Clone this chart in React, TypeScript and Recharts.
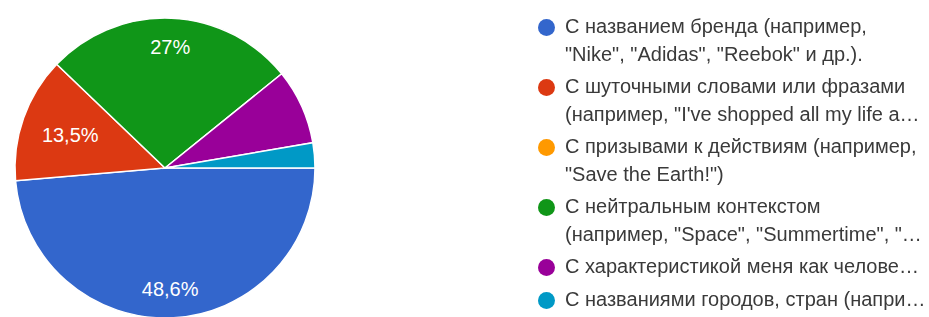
import { PieChart, Pie, Cell, Legend } from "recharts";

// answers (legend text as shown, already wrapped / cut like in the form summary)
const categories = [
  "С названием бренда (например,\n\"Nike\", \"Adidas\", \"Reebok\" и др.).",
  "С шуточными словами или фразами\n(например, \"I've shopped all my life a…",
  "С призывами к действиям (например,\n\"Save the Earth!\")",
  "С нейтральным контекстом\n(например, \"Space\", \"Summertime\", \"…",
  "С характеристикой меня как челове…",
  "С названиями городов, стран (напри…",
];
// number of responses (37 total)
const responses = [18, 5, 0, 10, 3, 1];
const colors = ["#3366cc", "#dc3912", "#ff9900", "#109618", "#990099", "#0099c6"];

const data = categories.map((name, i) => ({
  name,
  value: responses[i],
  fill: colors[i],
}));

const RADIAN = Math.PI / 180;
const FONT = "Arial, 'Liberation Sans', sans-serif";

const fmtPercent = (p: number) => {
  const s = (p * 100).toFixed(1).replace(/\.0$/, "");
  return s.replace(".", ",") + "%";
};

const renderLabel = (props: any) => {
  const { cx, cy, midAngle, outerRadius, percent } = props;
  if (percent < 0.1) return null;
  // big slices get the label further out, like google charts does
  const r = outerRadius * (percent >= 0.2 ? 0.81 : 0.67);
  const x = cx + r * Math.cos(-midAngle * RADIAN);
  const y = cy + r * Math.sin(-midAngle * RADIAN);
  return (
    <text
      x={x}
      y={y}
      fill="#ffffff"
      textAnchor="middle"
      dominantBaseline="central"
      fontSize={20}
      fontFamily={FONT}
    >
      {fmtPercent(percent)}
    </text>
  );
};

const renderLegend = (props: any) => {
  // keep the data order (recharts sorts legend items by default)
  const items = [...(props.payload || [])].sort(
    (a: any, b: any) => categories.indexOf(a.value) - categories.indexOf(b.value)
  );
  return (
    <ul style={{ listStyle: "none", margin: 0, padding: 0, fontFamily: FONT }}>
      {items.map((entry: any, i: number) => (
        <li
          key={i}
          style={{
            display: "flex",
            alignItems: "flex-start",
            marginBottom: 5,
            fontSize: 20,
            lineHeight: "27.5px",
            color: "#3a3a3a",
          }}
        >
          <span
            style={{
              display: "inline-block",
              width: 17,
              height: 17,
              borderRadius: "50%",
              background: entry.color,
              marginTop: 6,
              marginLeft: 9,
              marginRight: 10,
              flexShrink: 0,
            }}
          />
          <span style={{ whiteSpace: "pre-line" }}>{entry.value}</span>
        </li>
      ))}
    </ul>
  );
};

export default function App() {
  return (
    <div style={{ position: "fixed", left: 0, top: 0, background: "#fff" }}>
      <PieChart width={929} height={317} margin={{ top: 0, right: 0, bottom: 0, left: 0 }}>
        <Pie
          data={data}
          dataKey="value"
          nameKey="name"
          cx={165}
          cy={168}
          outerRadius={150}
          startAngle={0}
          endAngle={-360}
          stroke="#ffffff"
          strokeWidth={1.5}
          label={renderLabel}
          labelLine={false}
          isAnimationActive={false}
        >
          {data.map((d, i) => (
            <Cell key={i} fill={d.fill} />
          ))}
        </Pie>
        <Legend
          layout="vertical"
          align="right"
          verticalAlign="top"
          content={renderLegend}
          wrapperStyle={{ left: 529, top: 13, width: 400 }}
        />
      </PieChart>
    </div>
  );
}
